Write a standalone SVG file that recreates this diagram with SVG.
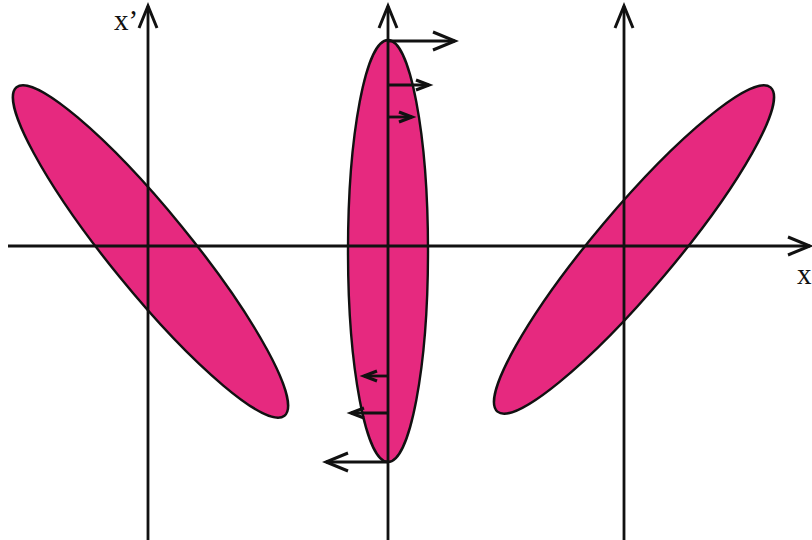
<svg xmlns="http://www.w3.org/2000/svg" width="812" height="540" viewBox="0 0 812 540">
<style>
.blob{fill:#E6297F;stroke:#111;stroke-width:2.4}
.ax{fill:none;stroke:#111;stroke-width:2.8}
.ar{fill:none;stroke:#111;stroke-width:2.8}
.lbl{font-family:"Liberation Serif",serif;font-size:29px;fill:#111}
</style>
<defs>
<marker id="big" markerUnits="userSpaceOnUse" markerWidth="30" markerHeight="24" refX="24" refY="12" orient="auto" overflow="visible">
<path d="M2,3 L24,12 L2,21" fill="none" stroke="#111" stroke-width="3"/>
</marker>
<marker id="small" markerUnits="userSpaceOnUse" markerWidth="20" markerHeight="16" refX="16" refY="8" orient="auto" overflow="visible">
<path d="M3,3 L16,8 L3,13" fill="none" stroke="#111" stroke-width="3.2"/>
</marker>
</defs>
<g id="ellipse-left"><ellipse class="blob" cx="150.5" cy="251.5" rx="212" ry="40" transform="rotate(50.8 150.5 251.5)"/></g>
<g id="ellipse-center"><ellipse class="blob" cx="388" cy="251" rx="40" ry="211"/></g>
<g id="ellipse-right"><ellipse class="blob" cx="634" cy="249.5" rx="212" ry="40" transform="rotate(-49.9 634 249.5)"/></g>
<g id="connectors">
<line class="ax" x1="8" y1="246" x2="810" y2="246" marker-end="url(#big)"/>
<line class="ax" x1="148" y1="540" x2="148" y2="6" marker-end="url(#big)"/>
<line class="ax" x1="388" y1="540" x2="388" y2="6" marker-end="url(#big)"/>
<line class="ax" x1="624" y1="540" x2="624" y2="6" marker-end="url(#big)"/>
<line class="ar" x1="388" y1="41" x2="455" y2="41" marker-end="url(#big)"/>
<line class="ar" x1="388" y1="85" x2="429" y2="85" marker-end="url(#small)"/>
<line class="ar" x1="388" y1="117" x2="412" y2="117" marker-end="url(#small)"/>
<line class="ar" x1="388" y1="376" x2="364" y2="376" marker-end="url(#small)"/>
<line class="ar" x1="388" y1="413" x2="351" y2="413" marker-end="url(#small)"/>
<line class="ar" x1="388" y1="462" x2="326" y2="462" marker-end="url(#big)"/>
</g>
<text class="lbl" x="114" y="30">x’</text>
<text class="lbl" x="797" y="284">x</text>
</svg>
